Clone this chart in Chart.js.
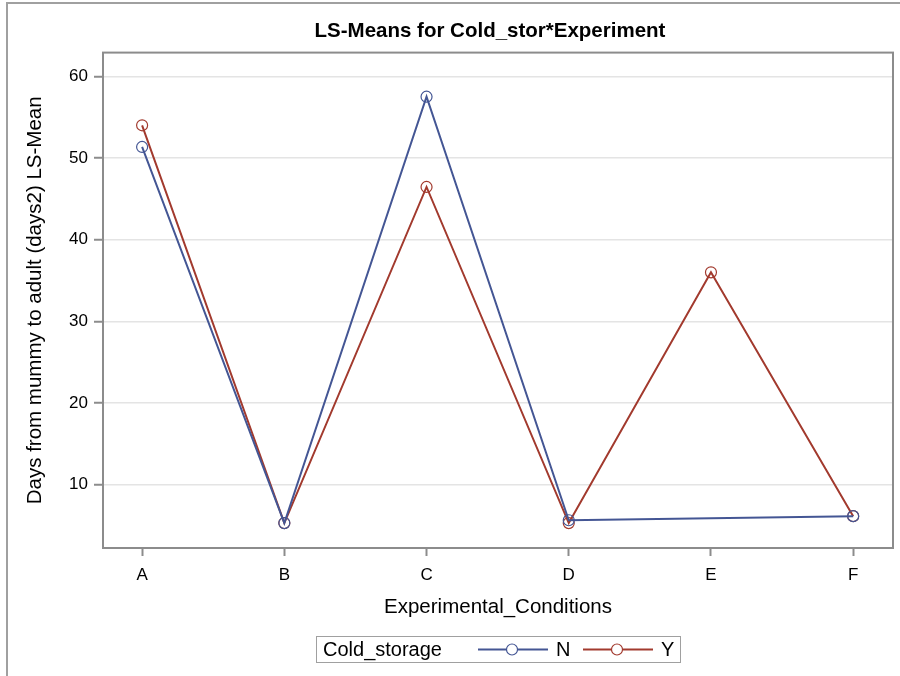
<!DOCTYPE html>
<html>
<head>
<meta charset="utf-8">
<script src="https://cdn.jsdelivr.net/npm/chart.js@4.4.1/dist/chart.umd.min.js"></script>
<style>
  html, body { margin: 0; padding: 0; background: #fff; }
  #wrap { position: relative; width: 900px; height: 676px; overflow: hidden; }
  #frame { position: absolute; left: 6px; top: 2px; width: 900px; height: 700px;
           border-left: 2px solid #a0a0a0; border-top: 2px solid #a0a0a0; pointer-events: none; }
  #legend { position: absolute; left: 316px; top: 636px; width: 363px; height: 25px;
            border: 1px solid #a0a0a0; font-family: "Liberation Sans", Arial, sans-serif;
            font-size: 20px; color: #000; }
  #legend span { position: absolute; top: 1px; line-height: 23px; }
  #legend canvas { position: absolute; top: 0; }
</style>
</head>
<body>
<div id="wrap">
  <canvas id="c" width="900" height="676"></canvas>
  <div id="frame"></div>
  <div id="legend">
    <span style="left:6px">Cold_storage</span>
    <canvas id="symN" width="70" height="25" style="left:161px"></canvas>
    <span style="left:239px">N</span>
    <canvas id="symY" width="70" height="25" style="left:266px"></canvas>
    <span style="left:344px">Y</span>
  </div>
</div>
<script>
const categories = ["A", "B", "C", "D", "E", "F"];
const seriesNames = ["N", "Y"];
const valuesN = [51.35, 5.3, 57.5, 5.65, null, 6.15];
const valuesY = [54.0, 5.3, 46.45, 5.3, 36.0, 6.15];
const yTicks = [10, 20, 30, 40, 50, 60];

const colorN = "#445694";
const colorY = "#A23A2E";
const FONT = "'Liberation Sans', Arial, sans-serif";

function toPoints(vals) {
  return vals.map((v, i) => ({ x: i, y: v }));
}

const framePlugin = {
  id: "frame",
  afterLayout(chart) {
    // centre the title a little right of the canvas centre, as in the original
    const t = chart.titleBlock;
    if (t) { t.left = 87; t.right = 893; }
  },
  afterDatasetsDraw(chart) {
    const a = chart.chartArea, ctx = chart.ctx;
    ctx.save();
    ctx.strokeStyle = "#8c8c8c";
    ctx.lineWidth = 2;
    ctx.strokeRect(a.left, a.top, a.right - a.left, a.bottom - a.top);
    ctx.restore();
  }
};

new Chart(document.getElementById("c"), {
  type: "line",
  data: {
    datasets: [
      { label: seriesNames[0], data: toPoints(valuesN), borderColor: colorN, backgroundColor: "transparent",
        borderWidth: 2, pointRadius: 5.5, pointBorderWidth: 1.2, pointBackgroundColor: "rgba(0,0,0,0)",
        pointBorderColor: colorN, spanGaps: true, tension: 0 },
      { label: seriesNames[1], data: toPoints(valuesY), borderColor: colorY, backgroundColor: "transparent",
        borderWidth: 2, pointRadius: 5.5, pointBorderWidth: 1.2, pointBackgroundColor: "rgba(0,0,0,0)",
        pointBorderColor: colorY, spanGaps: true, tension: 0 }
    ]
  },
  options: {
    responsive: false,
    animation: false,
    devicePixelRatio: 1,
    layout: { padding: { left: 0, right: 7, top: 0, bottom: 56.5 } },
    plugins: {
      legend: { display: false },
      tooltip: { enabled: false },
      title: {
        display: true,
        text: "LS-Means for Cold_stor*Experiment",
        color: "#000",
        font: { family: FONT, size: 20.5, weight: "bold" },
        padding: { top: 19, bottom: 9 }
      }
    },
    scales: {
      x: {
        type: "linear",
        min: -0.275,
        max: 5.28,
        afterBuildTicks(scale) { scale.ticks = categories.map((c, i) => ({ value: i })); },
        afterFit(scale) { scale.height = 71.5; },
        ticks: {
          callback: (v) => categories[v],
          color: "#000",
          font: { family: FONT, size: 17 },
          padding: 9,
          maxRotation: 0,
          autoSkip: false
        },
        grid: { drawOnChartArea: false, drawTicks: true, tickLength: 8, tickColor: "#8c8c8c", tickWidth: 2 },
        border: { display: false },
        title: {
          display: true,
          text: "Experimental_Conditions",
          color: "#000",
          font: { family: FONT, size: 20.5 },
          padding: { top: 0, bottom: 0 }
        }
      },
      y: {
        type: "linear",
        min: 2.25,
        max: 62.9,
        afterBuildTicks(scale) { scale.ticks = yTicks.map(v => ({ value: v })); },
        afterFit(scale) { scale.width = 103; },
        ticks: {
          color: "#000",
          font: { family: FONT, size: 17 },
          padding: 6
        },
        grid: { color: "#e4e4e4", lineWidth: 1.5, drawTicks: true, tickLength: 9, tickColor: "#8c8c8c", tickWidth: 2 },
        border: { display: false },
        title: {
          display: true,
          text: "Days from mummy to adult (days2) LS-Mean",
          color: "#000",
          font: { family: FONT, size: 20.5 },
          padding: { top: 23.5, bottom: 0 }
        }
      }
    }
  },
  plugins: [framePlugin]
});

function drawSym(id, color) {
  const cv = document.getElementById(id), ctx = cv.getContext("2d");
  ctx.strokeStyle = color;
  ctx.lineWidth = 2;
  ctx.beginPath();
  ctx.moveTo(0, 12.5); ctx.lineTo(28.5, 12.5);
  ctx.moveTo(39.5, 12.5); ctx.lineTo(70, 12.5);
  ctx.stroke();
  ctx.lineWidth = 1.2;
  ctx.beginPath();
  ctx.arc(34, 12.5, 5.5, 0, Math.PI * 2);
  ctx.stroke();
}
drawSym("symN", colorN);
drawSym("symY", colorY);
</script>
</body>
</html>
